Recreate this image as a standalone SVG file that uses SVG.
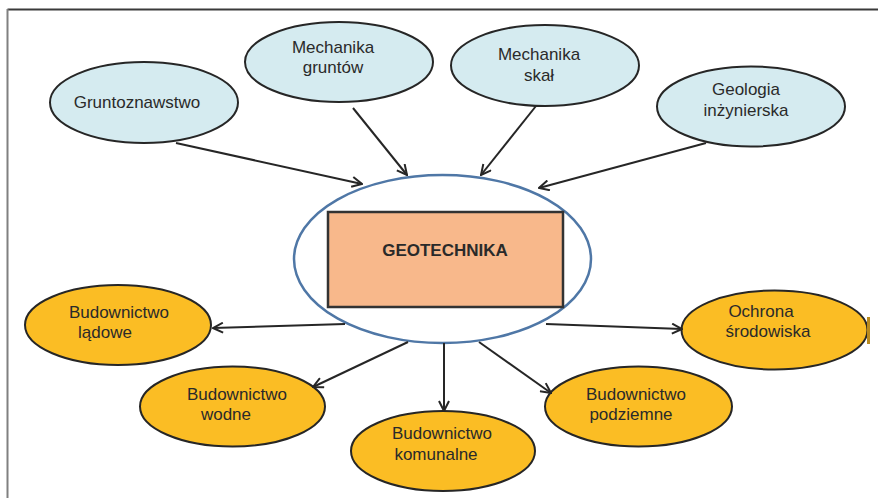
<svg xmlns="http://www.w3.org/2000/svg" width="878" height="498" viewBox="0 0 878 498">
  <style>
    text { font-family: "Liberation Sans", Arial, sans-serif; font-size: 17px; fill: #2a2a2a; text-anchor: middle; }
    .src { fill: #d5ebf0; stroke: #262626; stroke-width: 2; }
    .dst { fill: #fbbd24; stroke: #262626; stroke-width: 2; }
    .hub { fill: #ffffff; stroke: #4f77a6; stroke-width: 2.5; }
    .core { fill: #f8b88b; stroke: #333333; stroke-width: 2.5; }
    .title { font-weight: bold; }
    .link { stroke: #262626; stroke-width: 2; fill: none; marker-end: url(#open); }
  </style>
  <defs>
    <marker id="open" viewBox="0 0 12 12" refX="11" refY="6" markerWidth="12" markerHeight="12" markerUnits="userSpaceOnUse" orient="auto">
      <path d="M1,1 L11,6 L1,11" fill="none" stroke="#262626" stroke-width="2"/>
    </marker>
  </defs>

  <!-- page frame -->
  <line x1="7.5" y1="9.5" x2="878" y2="9.5" stroke="#3a3a3a" stroke-width="2"/>
  <line x1="7.5" y1="9" x2="7.5" y2="498" stroke="#808080" stroke-width="2"/>

  <!-- central hub -->
  <g id="geotechnika">
    <ellipse class="hub" cx="442.5" cy="259" rx="148.5" ry="84"/>
    <rect class="core" x="328" y="212" width="235" height="95"/>
    <text class="title" x="445" y="256">GEOTECHNIKA</text>
  </g>

  <!-- source disciplines -->
  <g id="gruntoznawstwo">
    <ellipse class="src" cx="144" cy="102.5" rx="94" ry="40.5"/>
    <text x="137" y="108">Gruntoznawstwo</text>
  </g>
  <g id="mechanika-gruntow">
    <ellipse class="src" cx="339" cy="62" rx="94" ry="40"/>
    <text x="333" y="53">Mechanika</text>
    <text x="333" y="73">gruntów</text>
  </g>
  <g id="mechanika-skal">
    <ellipse class="src" cx="545" cy="65.5" rx="94" ry="40.5"/>
    <text x="539" y="60">Mechanika</text>
    <text x="539" y="81">skał</text>
  </g>
  <g id="geologia-inzynierska">
    <ellipse class="src" cx="751" cy="106.5" rx="94" ry="40"/>
    <text x="746" y="95">Geologia</text>
    <text x="746" y="116">inżynierska</text>
  </g>

  <!-- fields of application -->
  <g id="budownictwo-ladowe">
    <ellipse class="dst" cx="118" cy="325" rx="93" ry="40"/>
    <text x="119" y="318">Budownictwo</text>
    <text x="105" y="338">lądowe</text>
  </g>
  <g id="budownictwo-wodne">
    <ellipse class="dst" cx="232.5" cy="406.5" rx="92.5" ry="40"/>
    <text x="237" y="400">Budownictwo</text>
    <text x="226" y="420">wodne</text>
  </g>
  <g id="budownictwo-komunalne">
    <ellipse class="dst" cx="443" cy="451" rx="92" ry="40"/>
    <text x="442" y="439">Budownictwo</text>
    <text x="436" y="460">komunalne</text>
  </g>
  <g id="budownictwo-podziemne">
    <ellipse class="dst" cx="638.5" cy="406.5" rx="93.5" ry="40"/>
    <text x="636" y="400">Budownictwo</text>
    <text x="631" y="420">podziemne</text>
  </g>
  <g id="ochrona-srodowiska">
    <ellipse class="dst" cx="774.5" cy="330" rx="93" ry="39.5"/>
    <text x="761" y="317">Ochrona</text>
    <text x="768" y="337">środowiska</text>
  </g>
  <!-- sliver of a shape beyond the right edge -->
  <rect x="867" y="317" width="3" height="27" fill="#b88a1e"/>

  <!-- connectors -->
  <g id="connectors">
    <line class="link" x1="176" y1="143" x2="362" y2="184"/>
    <line class="link" x1="353" y1="108" x2="407" y2="175"/>
    <line class="link" x1="536" y1="106" x2="481" y2="175"/>
    <line class="link" x1="706" y1="143" x2="539" y2="188"/>
    <line class="link" x1="345" y1="324" x2="213" y2="328"/>
    <line class="link" x1="408" y1="342" x2="313" y2="387"/>
    <line class="link" x1="444" y1="343" x2="444" y2="411"/>
    <line class="link" x1="479" y1="342" x2="551" y2="393"/>
    <line class="link" x1="546" y1="324" x2="682" y2="329"/>
  </g>
</svg>
